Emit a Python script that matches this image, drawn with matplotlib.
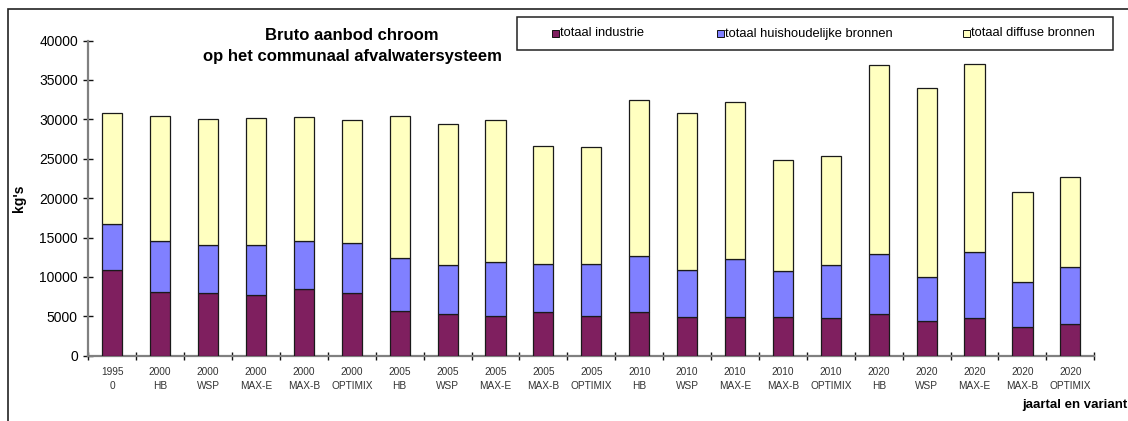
import matplotlib
matplotlib.use("Agg")
import matplotlib.pyplot as plt
from matplotlib.patches import Rectangle
import numpy as np

plt.rcParams['font.family'] = ['Liberation Sans', 'DejaVu Sans']

# Categories: year and variant
years = ["1995", "2000", "2000", "2000", "2000", "2000",
         "2005", "2005", "2005", "2005", "2005",
         "2010", "2010", "2010", "2010", "2010",
         "2020", "2020", "2020", "2020", "2020"]
variants = ["0", "HB", "WSP", "MAX-E", "MAX-B", "OPTIMIX",
            "HB", "WSP", "MAX-E", "MAX-B", "OPTIMIX",
            "HB", "WSP", "MAX-E", "MAX-B", "OPTIMIX",
            "HB", "WSP", "MAX-E", "MAX-B", "OPTIMIX"]

# Load per source (kg)
industrie = [10900, 8100, 7900, 7750, 8500, 8000,
             5700, 5300, 5100, 5600, 5050,
             5550, 4950, 4850, 4850, 4750,
             5300, 4450, 4750, 3700, 4050]
huishoudelijk = [5750, 6400, 6100, 6350, 6100, 6250,
                 6750, 6200, 6850, 6000, 6550,
                 7050, 5950, 7450, 5950, 6700,
                 7650, 5550, 8350, 5700, 7250]
diffuus = [14150, 15950, 16000, 16050, 15700, 15650,
           17950, 17900, 17950, 14950, 14900,
           19800, 19900, 19900, 14000, 13950,
           23950, 23950, 23900, 11400, 11400]

series_names = ["totaal industrie", "totaal huishoudelijke bronnen",
                "totaal diffuse bronnen"]
colors = ["#7F1F5F", "#8080FF", "#FFFFC0"]

W, H = 1128, 421
fig = plt.figure(figsize=(W / 100, H / 100), dpi=100)
fig.patch.set_facecolor("white")

ax = fig.add_axes([88.3 / W, 1 - 355.7 / H, (1094.3 - 88.3) / W, (355.7 - 40.5) / H])

x = np.arange(len(years))
bottom = np.zeros(len(years))
for vals, col in zip([industrie, huishoudelijk, diffuus], colors):
    ax.bar(x, vals, width=0.42, bottom=bottom, color=col,
           edgecolor="#1a1a1a", linewidth=0.9, zorder=3)
    bottom += np.array(vals)

ax.set_xlim(-0.5, len(years) - 0.5)
ax.set_ylim(0, 40000)
ax.set_yticks(np.arange(0, 40001, 5000))
ax.set_yticklabels([str(v) for v in range(0, 40001, 5000)], fontsize=10)

ax.set_xticks(np.arange(-0.5, len(years), 1.0))
ax.set_xticklabels([])
ax.set_xticks(x, minor=True)
ax.set_xticklabels([f"{y}\n{v}" for y, v in zip(years, variants)], minor=True,
                   fontsize=7.3, color="#333333", linespacing=1.55)
ax.tick_params(axis="x", which="minor", length=0, pad=8)
ax.tick_params(axis="x", which="major", direction="inout", length=6,
               width=1.0, color="#111111")
ax.tick_params(axis="y", direction="inout", length=7, width=1.0,
               color="#111111", pad=4)

for s in ["top", "right"]:
    ax.spines[s].set_visible(False)
for s in ["left", "bottom"]:
    ax.spines[s].set_color("#808080")
    ax.spines[s].set_linewidth(1.6)

ax.set_ylabel("kg's", fontsize=10, fontweight="bold")
ax.yaxis.set_label_coords(-(88.3 - 26) / (1094.3 - 88.3), 0.5)

fig.text(1022 / W, 1 - 405 / H, "jaartal en variant", fontsize=9.5,
         fontweight="bold", ha="left", va="center")

# Title
fig.text(352 / W, 1 - 35.5 / H, "Bruto aanbod chroom", fontsize=12,
         fontweight="bold", ha="center", va="center")
fig.text(352 / W, 1 - 56.5 / H, "op het communaal afvalwatersysteem",
         fontsize=12, fontweight="bold", ha="center", va="center")

# Outer chart frame
fig.patches.append(Rectangle((8 / W, -0.1), 1.2, 1 - 9 / H + 0.1,
                             transform=fig.transFigure, fill=False,
                             edgecolor="#222222", linewidth=1.2))

# Legend box
lx0, ly0, lx1, ly1 = 517, 17, 1113, 50
fig.patches.append(Rectangle((lx0 / W, 1 - ly1 / H), (lx1 - lx0) / W,
                             (ly1 - ly0) / H, transform=fig.transFigure,
                             facecolor="white", edgecolor="#222222",
                             linewidth=1.1))
marker_x = [555, 720, 966]
ly = 1 - 33.5 / H
for mx, name, col in zip(marker_x, series_names, colors):
    fig.patches.append(Rectangle(((mx - 3.5) / W, ly - 3.5 / H), 7 / W, 7 / H,
                                 transform=fig.transFigure, facecolor=col,
                                 edgecolor="#111111", linewidth=0.7))
    fig.text((mx + 5) / W, ly, name, fontsize=9.3, ha="left", va="center")

fig.savefig("out.png", dpi=100)
